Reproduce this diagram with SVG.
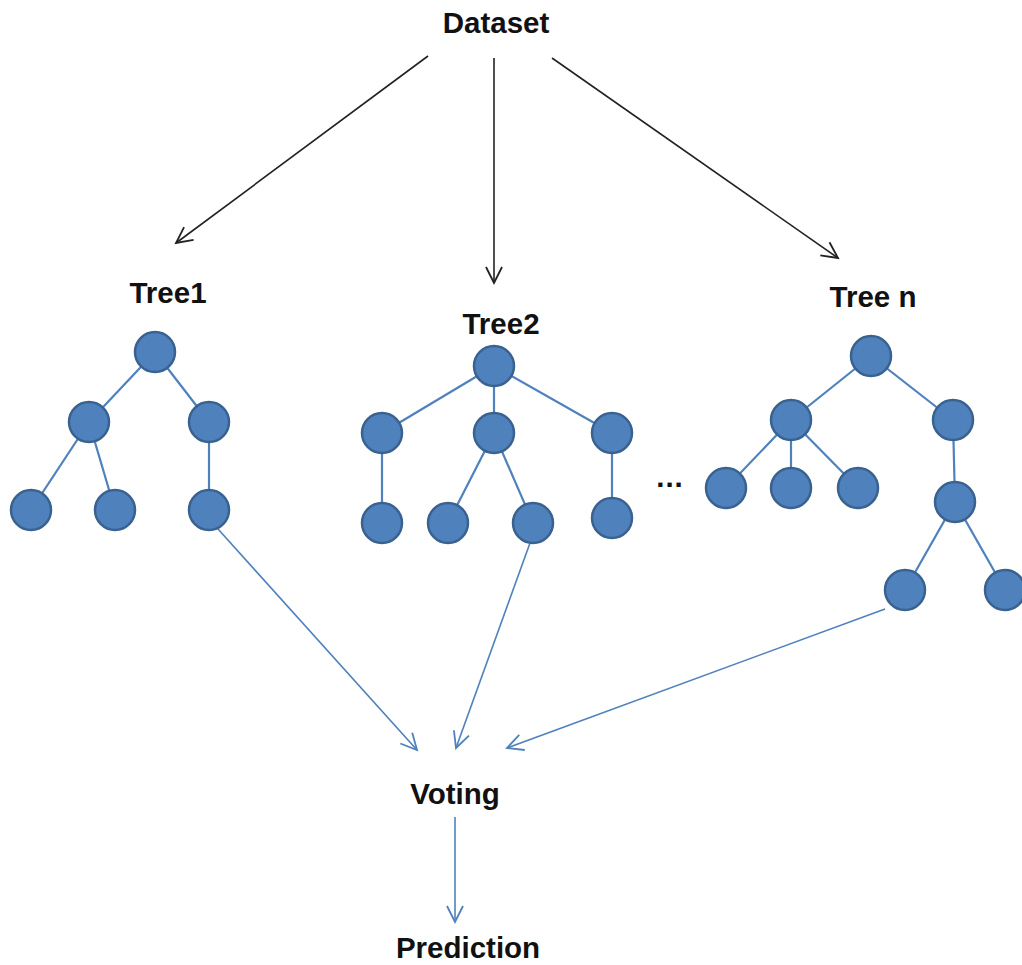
<svg xmlns="http://www.w3.org/2000/svg" width="1022" height="965" viewBox="0 0 1022 965">
<defs>
<style>
.lbl{font-family:"Liberation Sans",Arial,sans-serif;font-weight:bold;font-size:29.5px;fill:#111;text-anchor:middle}
.n{fill:#4F81BD;stroke:#3A6290;stroke-width:2.5}
.e{stroke:#4F81BD;stroke-width:2.2;fill:none}
.blk{stroke:#222;stroke-width:1.6;fill:none}
.blu{stroke:#4F81BD;stroke-width:1.6;fill:none}
</style>
<marker id="ab" markerUnits="userSpaceOnUse" markerWidth="24" markerHeight="24" viewBox="-20 -10 24 20" refX="0" refY="0" orient="auto">
<path d="M-16,-8 L0,0 L-16,8" fill="none" stroke="#222" stroke-width="1.8"/>
</marker>
<marker id="au" markerUnits="userSpaceOnUse" markerWidth="24" markerHeight="24" viewBox="-20 -10 24 20" refX="0" refY="0" orient="auto">
<path d="M-16,-8 L0,0 L-16,8" fill="none" stroke="#4F81BD" stroke-width="1.8"/>
</marker>
</defs>
<rect width="1022" height="965" fill="#fff"/>
<g id="connectors">
<line class="blk" x1="428" y1="56" x2="176" y2="243" marker-end="url(#ab)"/>
<line class="blk" x1="494" y1="58" x2="494" y2="283" marker-end="url(#ab)"/>
<line class="blk" x1="552" y1="58" x2="838" y2="258" marker-end="url(#ab)"/>
<line class="blu" x1="218" y1="529" x2="417" y2="750" marker-end="url(#au)"/>
<line class="blu" x1="530" y1="543" x2="456" y2="748" marker-end="url(#au)"/>
<line class="blu" x1="885" y1="609" x2="507" y2="748" marker-end="url(#au)"/>
<line class="blu" x1="455" y1="817" x2="455" y2="922" marker-end="url(#au)"/>
</g>
<g id="dataset"><text class="lbl" x="496" y="33">Dataset</text></g>
<g id="tree1">
<text class="lbl" x="168" y="303">Tree1</text>
<g class="e">
<line x1="155" y1="352" x2="89" y2="422"/>
<line x1="155" y1="352" x2="209" y2="422"/>
<line x1="89" y1="422" x2="31" y2="510"/>
<line x1="89" y1="422" x2="115" y2="510"/>
<line x1="209" y1="422" x2="209" y2="510"/>
</g>
<circle class="n" cx="155" cy="352" r="20"/>
<circle class="n" cx="89" cy="422" r="20"/>
<circle class="n" cx="209" cy="422" r="20"/>
<circle class="n" cx="31" cy="510" r="20"/>
<circle class="n" cx="115" cy="510" r="20"/>
<circle class="n" cx="209" cy="510" r="20"/>
</g>
<g id="tree2">
<text class="lbl" x="501" y="334">Tree2</text>
<g class="e">
<line x1="494" y1="366" x2="382" y2="433"/>
<line x1="494" y1="366" x2="494" y2="433"/>
<line x1="494" y1="366" x2="612" y2="433"/>
<line x1="382" y1="433" x2="382" y2="523"/>
<line x1="494" y1="433" x2="448" y2="523"/>
<line x1="494" y1="433" x2="533" y2="523"/>
<line x1="612" y1="433" x2="612" y2="518"/>
</g>
<circle class="n" cx="494" cy="366" r="20"/>
<circle class="n" cx="382" cy="433" r="20"/>
<circle class="n" cx="494" cy="433" r="20"/>
<circle class="n" cx="612" cy="433" r="20"/>
<circle class="n" cx="382" cy="523" r="20"/>
<circle class="n" cx="448" cy="523" r="20"/>
<circle class="n" cx="533" cy="523" r="20"/>
<circle class="n" cx="612" cy="518" r="20"/>
</g>
<g id="ellipsis"><text class="lbl" x="670" y="487" letter-spacing="1">...</text></g>
<g id="treen">
<text class="lbl" x="873" y="307">Tree n</text>
<g class="e">
<line x1="871" y1="356" x2="791" y2="420"/>
<line x1="871" y1="356" x2="953" y2="420"/>
<line x1="791" y1="420" x2="726" y2="488"/>
<line x1="791" y1="420" x2="791" y2="488"/>
<line x1="791" y1="420" x2="858" y2="488"/>
<line x1="953" y1="420" x2="955" y2="502"/>
<line x1="955" y1="502" x2="905" y2="590"/>
<line x1="955" y1="502" x2="1005" y2="590"/>
</g>
<circle class="n" cx="871" cy="356" r="20"/>
<circle class="n" cx="791" cy="420" r="20"/>
<circle class="n" cx="953" cy="420" r="20"/>
<circle class="n" cx="726" cy="488" r="20"/>
<circle class="n" cx="791" cy="488" r="20"/>
<circle class="n" cx="858" cy="488" r="20"/>
<circle class="n" cx="955" cy="502" r="20"/>
<circle class="n" cx="905" cy="590" r="20"/>
<circle class="n" cx="1005" cy="590" r="20"/>
</g>
<g id="voting"><text class="lbl" x="455" y="804">Voting</text></g>
<g id="prediction"><text class="lbl" x="468" y="958">Prediction</text></g>
</svg>
